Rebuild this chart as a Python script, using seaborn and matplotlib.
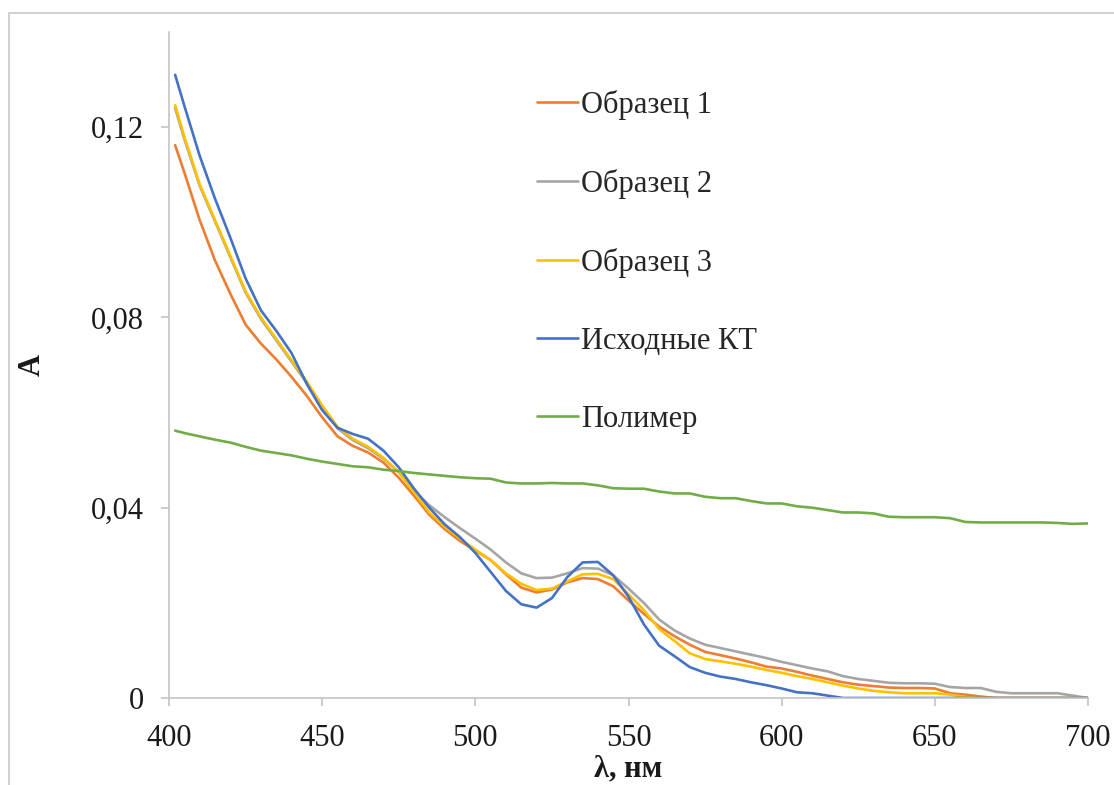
"""
Спектры поглощения образцов (A от длины волны).
"""
import matplotlib
matplotlib.use("Agg")
import numpy as np
import pandas as pd
import matplotlib.pyplot as plt
import matplotlib.patches as mpatches
from matplotlib.ticker import FuncFormatter
import seaborn as sns

# длины волн, нм
lam = [402, 405, 410, 415, 420, 425, 430, 435, 440, 445,
       450, 455, 460, 465, 470, 475, 480, 485, 490, 495,
       500, 505, 510, 515, 520, 525, 530, 535, 540, 545,
       550, 555, 560, 565, 570, 575, 580, 585, 590, 595,
       600, 605, 610, 615, 620, 625, 630, 635, 640, 645,
       650, 655, 660, 665, 670, 675, 680, 685, 690, 695, 700]

sample1 = [0.1162, 0.1105, 0.1005, 0.0920, 0.0850, 0.0785, 0.0745, 0.0712, 0.0675, 0.0635,
           0.0590, 0.0550, 0.0530, 0.0516, 0.0495, 0.0463, 0.0425, 0.0385, 0.0355, 0.0330,
           0.0310, 0.0290, 0.0260, 0.0232, 0.0222, 0.0228, 0.0243, 0.0252, 0.0250, 0.0235,
           0.0205, 0.0177, 0.0150, 0.0130, 0.0112, 0.0097, 0.0090, 0.0083, 0.0075, 0.0066,
           0.0062, 0.0055, 0.0047, 0.0040, 0.0033, 0.0028, 0.0025, 0.0022, 0.0021, 0.0021,
           0.0020, 0.0010, 0.0007, 0.0003, 0.0, 0.0, 0.0, 0.0, 0.0, 0.0, 0.0]

sample2 = [0.1240, 0.1175, 0.1077, 0.1002, 0.0927, 0.0852, 0.0797, 0.0752, 0.0707, 0.0662,
           0.0612, 0.0567, 0.0542, 0.0525, 0.0503, 0.0475, 0.0435, 0.0405, 0.0380, 0.0357,
           0.0335, 0.0312, 0.0285, 0.0262, 0.0252, 0.0253, 0.0262, 0.0273, 0.0272, 0.0258,
           0.0230, 0.0200, 0.0165, 0.0142, 0.0125, 0.0112, 0.0105, 0.0098, 0.0091, 0.0084,
           0.0076, 0.0069, 0.0062, 0.0056, 0.0046, 0.0040, 0.0036, 0.0032, 0.0031, 0.0031,
           0.0030, 0.0023, 0.0021, 0.0021, 0.0013, 0.0010, 0.0010, 0.0010, 0.0010, 0.0005, 0.0]

sample3 = [0.1246, 0.1180, 0.1080, 0.1005, 0.0930, 0.0855, 0.0800, 0.0755, 0.0710, 0.0665,
           0.0615, 0.0570, 0.0545, 0.0528, 0.0505, 0.0475, 0.0432, 0.0390, 0.0360, 0.0335,
           0.0312, 0.0290, 0.0262, 0.0240, 0.0227, 0.0230, 0.0245, 0.0260, 0.0261, 0.0250,
           0.0218, 0.0185, 0.0145, 0.0120, 0.0094, 0.0082, 0.0077, 0.0072, 0.0066, 0.0059,
           0.0053, 0.0046, 0.0040, 0.0033, 0.0026, 0.0020, 0.0015, 0.0012, 0.0010, 0.0010,
           0.0010, 0.0007, 0.0002, 0.0, 0.0, 0.0, 0.0, 0.0, 0.0, 0.0, 0.0]

initial_qd = [0.1310, 0.1245, 0.1140, 0.1050, 0.0968, 0.0882, 0.0815, 0.0772, 0.0725, 0.0660,
              0.0605, 0.0568, 0.0555, 0.0545, 0.0520, 0.0485, 0.0440, 0.0400, 0.0365, 0.0338,
              0.0305, 0.0265, 0.0225, 0.0197, 0.0190, 0.0210, 0.0254, 0.0285, 0.0286, 0.0258,
              0.0213, 0.0155, 0.0110, 0.0088, 0.0065, 0.0053, 0.0045, 0.0040, 0.0033, 0.0027,
              0.0020, 0.0012, 0.0010, 0.0005, 0.0, 0.0, 0.0, 0.0, 0.0, 0.0,
              0.0, 0.0, 0.0, 0.0, 0.0, 0.0, 0.0, 0.0, 0.0, 0.0, 0.0]

polymer = [0.0562, 0.0557, 0.0550, 0.0543, 0.0537, 0.0528, 0.0520, 0.0515, 0.0510, 0.0503,
           0.0497, 0.0492, 0.0487, 0.0485, 0.0480, 0.0477, 0.0473, 0.0470, 0.0467, 0.0464,
           0.0462, 0.0461, 0.0453, 0.0451, 0.0451, 0.0452, 0.0451, 0.0451, 0.0447, 0.0441,
           0.0440, 0.0440, 0.0434, 0.0430, 0.0430, 0.0423, 0.0420, 0.0420, 0.0414, 0.0409,
           0.0409, 0.0403, 0.0400, 0.0395, 0.0390, 0.0390, 0.0388, 0.0381, 0.0380, 0.0380,
           0.0380, 0.0378, 0.0370, 0.0369, 0.0369, 0.0369, 0.0369, 0.0369, 0.0368, 0.0366, 0.0367]

series_names = ["Образец 1", "Образец 2", "Образец 3", "Исходные КТ", "Полимер"]
series_colors = ["#ED7D31", "#A5A5A5", "#FFC000", "#4472C4", "#70AD47"]
y_ticks = [0, 0.04, 0.08, 0.12]
x_ticks = [400, 450, 500, 550, 600, 650, 700]

# Таблица в длинном формате
df = pd.concat([
    pd.DataFrame({"λ": lam, "A": vals, "Серия": name})
    for name, vals in zip(series_names, [sample1, sample2, sample3, initial_qd, polymer])
])

sns.set_theme(style="white")
plt.rcParams["font.family"] = ["Liberation Serif", "DejaVu Serif"]

fig = plt.figure(figsize=(11.14, 7.85), dpi=100)
ax = fig.add_axes([169 / 1114, 1 - 698 / 785, (1088 - 169) / 1114, (698 - 32) / 785])

sns.lineplot(data=df, x="λ", y="A", hue="Серия", hue_order=series_names,
             palette=dict(zip(series_names, series_colors)), linewidth=1.9, ax=ax)

ax.set_xlim(400, 700)
ax.set_ylim(0, 0.14)
ax.set_xticks(x_ticks)
ax.set_yticks(y_ticks)
ax.yaxis.set_major_formatter(FuncFormatter(lambda v, _: "0" if v == 0 else f"{v:.2f}".replace(".", ",")))

for side in ["top", "right"]:
    ax.spines[side].set_visible(False)
for side in ["left", "bottom"]:
    ax.spines[side].set_color("#c3c3c3")
    ax.spines[side].set_linewidth(1.2)

ax.tick_params(axis="both", which="major", direction="out", length=6, width=1.2,
               color="#c3c3c3", labelsize=22, labelcolor="#1a1a1a")
ax.tick_params(axis="x", pad=13, bottom=True)
ax.tick_params(axis="y", pad=12, left=True)

ax.set_xlabel("λ, нм", fontsize=22, fontweight="bold", color="#1a1a1a")
ax.set_ylabel("A", fontsize=22, fontweight="bold", color="#1a1a1a")
ax.xaxis.set_label_coords(0.5, -0.084)
ax.yaxis.set_label_coords(-0.133, 0.5)

# Легенда без рамки
handles, labels = ax.get_legend_handles_labels()
ax.legend(handles, labels, loc="upper left", bbox_to_anchor=(537 / 1114, 1 - 90 / 785),
          bbox_transform=fig.transFigure, frameon=False, fontsize=22,
          handlelength=1.35, handletextpad=0.1, labelspacing=1.6,
          borderpad=0, borderaxespad=0)

# Внешняя рамка области диаграммы
fig.patches.append(mpatches.Rectangle((8.5 / 1114, -0.1), 1.2, 1.1 - 13 / 785,
                                      transform=fig.transFigure, fill=False,
                                      edgecolor="#c8c8c8", linewidth=1.2, clip_on=False))

fig.savefig("out.png", dpi=100)
